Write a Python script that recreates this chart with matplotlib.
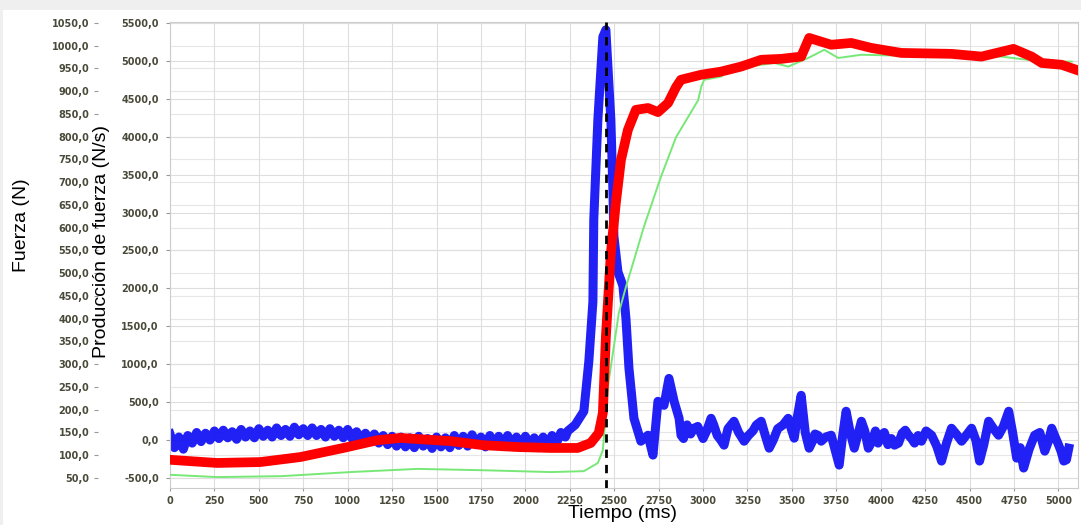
import matplotlib
matplotlib.use('Agg')
import matplotlib.pyplot as plt
from matplotlib.patches import Rectangle
from matplotlib.ticker import FuncFormatter, MultipleLocator

# Producción de fuerza (N/s) - serie azul
t_rfd = [0, 25, 50, 75, 100, 125, 150, 175, 200, 225, 250, 275, 300, 325, 350, 375,
         400, 425, 450, 475, 500, 525, 550, 575, 600, 625, 650, 675, 700, 725, 750,
         775, 800, 825, 850, 875, 900, 925, 950, 975, 1000, 1025, 1050, 1075, 1100,
         1125, 1150, 1175, 1200, 1225, 1250, 1275, 1300, 1325, 1350, 1375, 1400,
         1425, 1450, 1475, 1500, 1525, 1550, 1575, 1600, 1625, 1650, 1675, 1700,
         1725, 1750, 1775, 1800, 1825, 1850, 1875, 1900, 1925, 1950, 1975, 2000,
         2025, 2050, 2075, 2100, 2125, 2150, 2175, 2200, 2225,
         2239, 2280, 2329, 2357, 2380, 2385, 2408, 2436, 2453, 2481, 2492, 2498,
         2521, 2549, 2566, 2583, 2611, 2650, 2690, 2718, 2746, 2780, 2808, 2837,
         2865, 2876, 2890, 2910, 2930, 2949, 2970, 3000, 3020, 3045, 3060, 3080,
         3100, 3118, 3140, 3174, 3200, 3231, 3255, 3280, 3300, 3327, 3350, 3372,
         3395, 3420, 3450, 3479, 3496, 3513, 3530, 3552, 3575, 3597, 3615, 3630,
         3648, 3665, 3690, 3721, 3740, 3766, 3785, 3805, 3828, 3851, 3870, 3891,
         3910, 3930, 3950, 3970, 3985, 4003, 4020, 4040, 4060, 4077, 4100, 4120,
         4138, 4156, 4173, 4190, 4210, 4229, 4255, 4286, 4315, 4342, 4370, 4398,
         4425, 4455, 4480, 4511, 4535, 4556, 4580, 4607, 4635, 4663, 4690, 4720,
         4742, 4765, 4785, 4804, 4835, 4866, 4895, 4923, 4943, 4962, 4980, 5000,
         5015, 5030, 5045, 5058]
rfd = [80, -100, 40, -120, 60, -40, 100, -20, 90, 0, 120, 20, 130, 30, 110, 10,
       140, 40, 120, 30, 150, 50, 130, 40, 160, 60, 140, 50, 170, 70, 150,
       60, 160, 60, 140, 40, 150, 50, 130, 30, 140, 20, 110, 0, 90,
       -20, 80, -40, 60, -60, 50, -80, 40, -90, 30, -100, 50,
       -80, 20, -110, 40, -90, 30, -100, 60, -70, 50, -80, 70,
       -60, 40, -90, 60, -70, 50, -80, 60, -60, 40, -90, 50,
       -80, 30, -100, 40, -70, 60, -40, 100, 40,
       120, 200, 380, 1036, 1824, 2913, 4226, 5316, 5410, 4226, 3347, 2690,
       2218, 2034, 1600, 944, 287, -15, 64, -198, 511, 458, 813, 511,
       287, 64, 20, 200, 80, 156, 180, 20, 120, 287, 200, 60,
       0, -67, 150, 248, 100, -15, 60, 120, 200, 248, 60, -107,
       0, 150, 200, 287, 150, 25, 300, 590, 100, -107, -20, 80,
       60, -15, 40, 64, -100, -330, 50, 380, 100, -107, 60, 248,
       120, -107, -20, 120, -40, 64, 100, -60, 20, -67, -40, 90,
       130, 64, 20, -40, 60, -15, 120, 64, -80, -277, -40, 156,
       80, -15, 60, 156, 0, -277, -60, 248, 150, 64, 180, 380,
       100, -238, -100, -369, -120, 64, 100, -146, -20, 156, 50, -60,
       -150, -277, -260, -107]

# Fuerza (N) - serie roja
t_force = [0, 265, 508, 733, 976, 1167, 1297, 1579, 1765, 1957, 2143, 2295, 2368,
           2413, 2436, 2453, 2481, 2509, 2538, 2577, 2622, 2690, 2746, 2803, 2848,
           2875, 2988, 3101, 3214, 3327, 3440, 3552, 3597, 3721, 3834, 3947, 4116,
           4398, 4567, 4747, 4849, 4906, 5018, 5100]
force = [90, 83, 85, 96, 116, 133, 138, 131, 122, 118, 116, 116, 127,
         149, 193, 360, 544, 654, 749, 815, 859, 863, 854, 874, 909,
         925, 936, 943, 954, 969, 971, 976, 1017, 1002, 1006, 995, 984,
         982, 976, 993, 976, 962, 958, 947]

# Fuerza (N) - serie verde
t_force2 = [0, 265, 626, 1015, 1393, 1765, 2143, 2329, 2408, 2436, 2464, 2526,
            2566, 2667, 2763, 2848, 2972, 2990, 3006, 3101, 3175, 3254, 3400, 3479,
            3592, 3682, 3761, 3891, 4116, 4398, 4680, 4906, 5075]
force2 = [57, 52, 54, 63, 70, 67, 63, 65, 83, 111, 250, 413,
          470, 602, 712, 799, 880, 910, 925, 932, 954, 954, 962, 954,
          973, 991, 973, 980, 978, 976, 976, 965, 965]

t_marker = 2453

x_ticks = list(range(0, 5001, 250))
rfd_lim = (-632, 5513)
force_lim = (28, 1052)


def fmt(v, pos):
    return f'{v:.1f}'.replace('.', ',')


tick_kw = dict(labelsize=7, colors='#999999', labelcolor='#4a4a3a')

fig = plt.figure(figsize=(10.81, 5.25), dpi=100, facecolor='#efefef')
fig.add_artist(Rectangle((3 / 1081, 0), 1, 1 - 10 / 525, transform=fig.transFigure,
                         facecolor='white', edgecolor='none', zorder=-5))

ax = fig.add_axes([170 / 1081, 1 - 488 / 525, 908 / 1081, 466 / 525])
ax.set_xlim(0, 5110)
ax.set_ylim(*rfd_lim)
ax.set_xticks(x_ticks)
ax.yaxis.set_major_locator(MultipleLocator(500))
ax.yaxis.set_major_formatter(FuncFormatter(fmt))
ax.tick_params(axis='y', length=3, pad=5, **tick_kw)
ax.tick_params(axis='x', length=2, pad=4, **tick_kw)
for lab in ax.get_xticklabels() + ax.get_yticklabels():
    lab.set_fontweight('bold')
ax.grid(True, color='#dedede', lw=0.8)
ax.set_axisbelow(True)

# lineas de rejilla de la escala de fuerza, pasadas a la escala N/s
for f in range(50, 1051, 50):
    r = rfd_lim[0] + (f - force_lim[0]) * (rfd_lim[1] - rfd_lim[0]) / (force_lim[1] - force_lim[0])
    ax.axhline(r, color='#e6e6e6', lw=0.8, zorder=0)

for s in ax.spines.values():
    s.set_color('#cccccc')

ax.plot(t_rfd, rfd, color='#1515f5', lw=6.5, solid_joinstyle='round', alpha=0.95, zorder=2)

ax2 = ax.twinx()
ax2.set_ylim(*force_lim)
ax2.yaxis.tick_left()
ax2.spines['left'].set_position(('outward', 52))
for side in ['left', 'right', 'top', 'bottom']:
    ax2.spines[side].set_visible(False)
ax2.yaxis.set_major_locator(MultipleLocator(50))
ax2.yaxis.set_major_formatter(FuncFormatter(fmt))
ax2.tick_params(axis='y', length=3, pad=3, **tick_kw)
for lab in ax2.get_yticklabels():
    lab.set_fontweight('bold')

ax2.plot(t_force2, force2, color='#77e877', lw=1.4, zorder=2)
ax2.plot(t_force, force, color='#ff0000', lw=7, solid_joinstyle='round', zorder=3)
ax2.axvline(t_marker, color='black', lw=2, ls=(0, (3, 2.5)), zorder=4)

fig.text(22 / 1081, 1 - 225 / 525, 'Fuerza (N)', rotation=90, ha='center', va='center',
         fontsize=14, family='Liberation Sans')
fig.text(101 / 1081, 1 - 242 / 525, 'Producción de fuerza (N/s)', rotation=90, ha='center',
         va='center', fontsize=14, family='Liberation Sans')
fig.text(622 / 1081, 1 - 514 / 525, 'Tiempo (ms)', ha='center', va='center',
         fontsize=14, family='Liberation Sans')

fig.savefig('out.png', dpi=100, facecolor=fig.get_facecolor())
